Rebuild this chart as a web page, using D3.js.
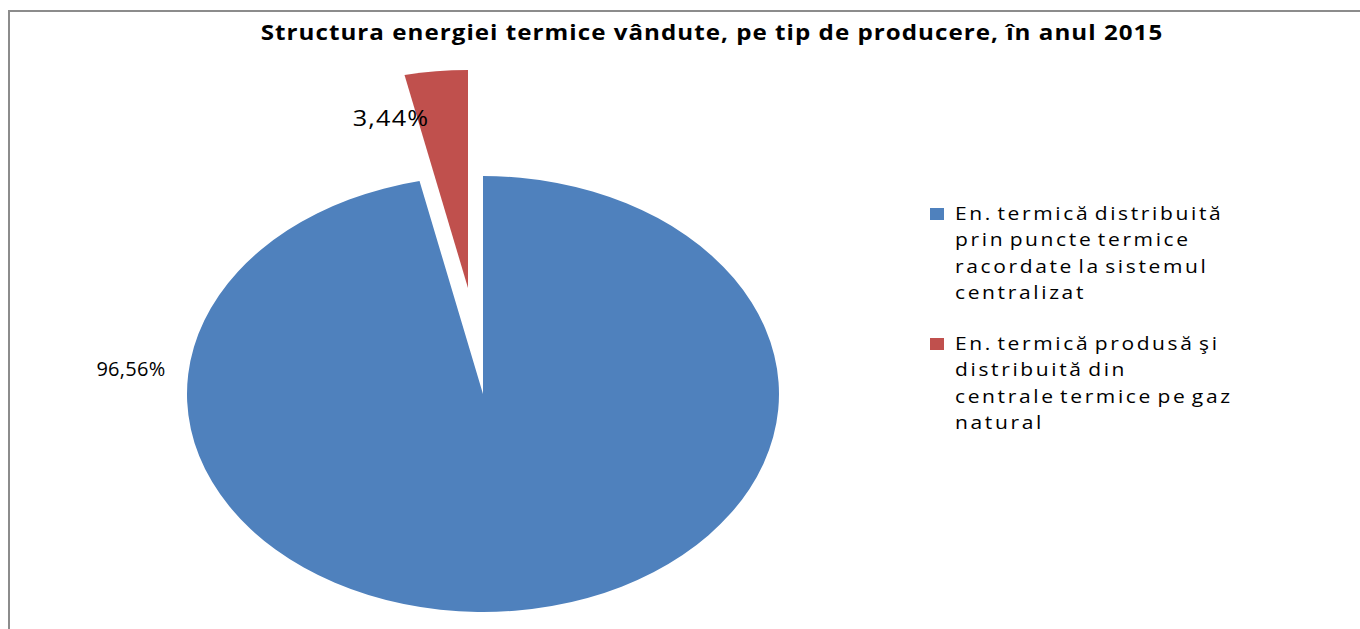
<!DOCTYPE html>
<html>
<head>
<meta charset="utf-8">
<script src="https://cdn.jsdelivr.net/npm/d3@7"></script>
<style>
  body { margin: 0; background: #fff; }
  svg { display: block; }
</style>
</head>
<body>
<svg id="chart" width="1360" height="629"></svg>
<script>
const title = "Structura energiei termice vândute, pe tip de producere, în anul 2015";
const categories = [
  "En. termică distribuită prin puncte termice racordate la sistemul centralizat",
  "En. termică produsă şi distribuită din centrale termice pe gaz natural"
];
const values = [96.56, 3.44];
const labels = ["96,56%", "3,44%"];
const legendLines = [
  ["En. termică distribuită", "prin puncte termice", "racordate la sistemul", "centralizat"],
  ["En. termică produsă şi", "distribuită din", "centrale termice pe gaz", "natural"]
];
const colors = ["#4F81BD", "#C0504D"];

const cfg = {
  cx: 483, cy: 394,
  rx: 296, ry: 218,
  explode: [-15, -106],
  font: "'Open Sans', 'Liberation Sans', sans-serif",
  // the original render is stretched sideways a little
  textStretch: 1.15,
  legendStretch: 1.2,
};

const svg = d3.select("#chart");

// chart border (left + top visible)
svg.append("path")
  .attr("d", "M9,629 L9,11 L1360,11")
  .attr("fill", "none")
  .attr("stroke", "#8c8c8c")
  .attr("stroke-width", 2);

svg.append("g")
  .attr("transform", `translate(712,40) scale(${cfg.textStretch},1)`)
  .append("text")
  .attr("text-anchor", "middle")
  .attr("font-family", cfg.font)
  .attr("font-weight", "bold")
  .attr("font-size", 21)
  .attr("letter-spacing", 0.9)
  .attr("fill", "#000")
  .text(title);

const pie = d3.pie().sort(null).value(d => d);
const arcs = pie(values);
const arc = d3.arc().innerRadius(0).outerRadius(cfg.ry);

const pieG = svg.append("g")
  .attr("transform", `translate(${cfg.cx},${cfg.cy})`);

pieG.selectAll("path")
  .data(arcs)
  .join("path")
  .attr("transform", (d, i) => {
    const off = i === 1 ? cfg.explode : [0, 0];
    return `translate(${off[0]},${off[1]}) scale(${cfg.rx / cfg.ry},1)`;
  })
  .attr("d", arc)
  .attr("fill", (d, i) => colors[i]);

// data labels
const labelPos = [[131, 376], [391, 126]];
const labelStyle = [
  { size: 20, stretch: 1, spacing: 0.3 },
  { size: 21, stretch: 1.2, spacing: 1 },
];
svg.selectAll("g.lbl")
  .data(labels)
  .join("g")
  .attr("class", "lbl")
  .attr("transform", (d, i) =>
    `translate(${labelPos[i][0]},${labelPos[i][1]}) scale(${labelStyle[i].stretch},1)`)
  .append("text")
  .attr("text-anchor", "middle")
  .attr("font-family", cfg.font)
  .attr("font-size", (d, i) => labelStyle[i].size)
  .attr("letter-spacing", (d, i) => labelStyle[i].spacing)
  .attr("fill", "#000")
  .text(d => d);

// legend
const legend = svg.append("g").attr("transform", "translate(930,208)");
const items = legend.selectAll("g")
  .data(categories)
  .join("g")
  .attr("transform", (d, i) => `translate(0,${i * 130})`);
items.append("rect")
  .attr("width", 14).attr("height", 12)
  .attr("fill", (d, i) => colors[i]);
items.append("g")
  .attr("transform", `translate(25,0) scale(${cfg.legendStretch},1)`)
  .append("text")
  .attr("font-family", cfg.font)
  .attr("font-size", 17.5)
  .attr("letter-spacing", 2.2)
  .attr("word-spacing", -3)
  .attr("fill", "#000")
  .selectAll("tspan")
  .data((d, i) => legendLines[i])
  .join("tspan")
  .attr("x", 0)
  .attr("y", (d, j) => 12 + j * 26.3)
  .text(d => d);
</script>
</body>
</html>
